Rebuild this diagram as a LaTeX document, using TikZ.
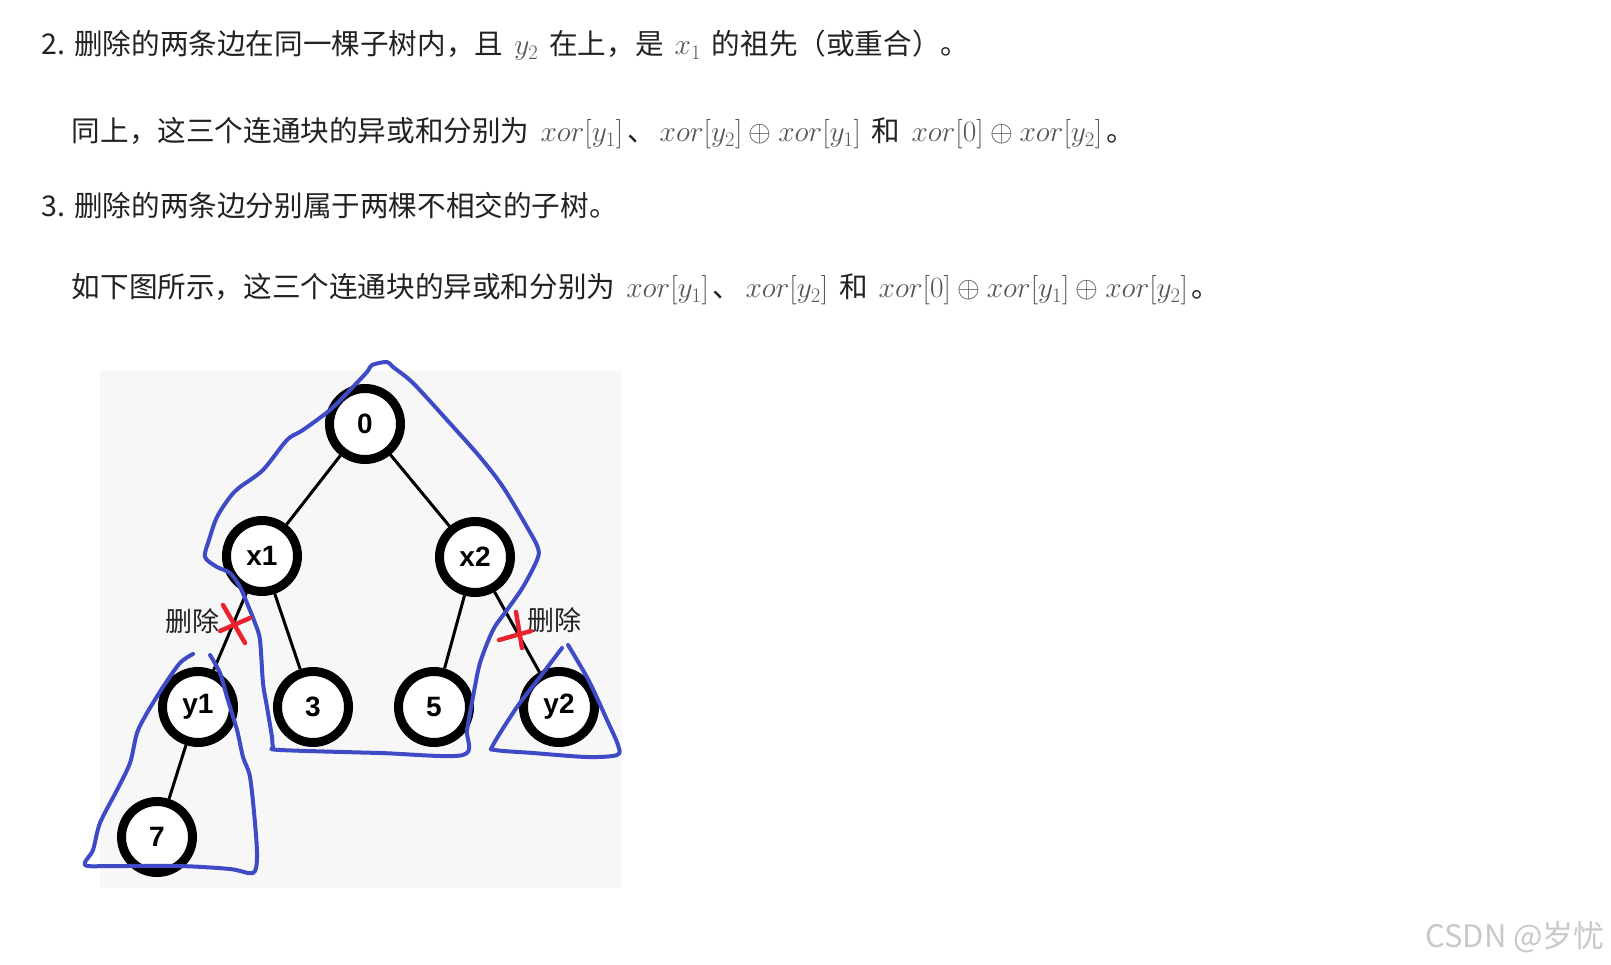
\RequirePackage{fix-cm}
\documentclass[tikz,border=0pt]{standalone}
\usepackage{fontspec}
\setmainfont{Noto Sans CJK SC}
\newfontfamily\labelfont{Liberation Sans}
\usetikzlibrary{positioning}
\usepackage{amsmath}
\usepackage{amssymb}
\usepackage{color}

\definecolor{txtgray}{HTML}{222222}
\definecolor{mathgray}{HTML}{555555}
\definecolor{panel}{HTML}{F7F7F7}
\definecolor{penblue}{HTML}{3F4BC6}
\definecolor{penred}{HTML}{E8252E}
\definecolor{markgray}{HTML}{C8C8C8}

\newcommand{\mth}[1]{{\fontsize{29.4}{34}\selectfont\textcolor{mathgray}{$#1$}}}
\newcommand{\wgap}{\hspace{11pt}}
\newcommand{\tgap}{\hspace{4pt}}

\begin{document}
\begin{tikzpicture}[x=1pt,y=-1pt,node distance=150pt,on grid,
  vtx/.style={circle,draw=black,line width=9pt,fill=white,minimum size=71pt,
    inner sep=0pt,font=\labelfont\bfseries\fontsize{28}{28}\selectfont},
  tree/.style={line width=3pt},
  para/.style={anchor=base west,inner sep=0pt,text=txtgray,
    font=\fontsize{28.6}{34}\selectfont},
  cut/.style={text=txtgray,inner sep=0pt,font=\fontsize{27}{27}\selectfont},
  pen/.style={penblue,line width=4pt,line cap=round,line join=round},
  cross/.style={penred,line width=4.5pt,line cap=round}]
\useasboundingbox (0,0) rectangle (1611,965);

% text above the figure
\node[para] (item2) at (41.7,55) {2. 删除的两条边在同一棵子树内，且\wgap\mth{y_2}\wgap 在上，是\wgap\mth{x_1}\wgap 的祖先（或重合）。};
\node[para] (same) at (71.7,141.6) {同上，这三个连通块的异或和分别为\wgap\mth{xor[y_1]}\tgap、\tgap\mth{xor[y_2]\oplus xor[y_1]}\wgap 和\wgap\mth{xor[0]\oplus xor[y_2]}\tgap。};
\node[para] (item3) at (41.7,216.7) {3. 删除的两条边分别属于两棵不相交的子树。};
\node[para] (below) at (71.7,298) {如下图所示，这三个连通块的异或和分别为\wgap\mth{xor[y_1]}\tgap、\tgap\mth{xor[y_2]}\wgap 和\wgap\mth{xor[0]\oplus xor[y_1]\oplus xor[y_2]}\tgap。};

% the figure
\fill[panel] (100,371) rectangle (622,888);

\node[vtx] (n0) at (365,424) {0};
\node[vtx] (x1) [below left=132pt and 103pt of n0] {x1};
\node[vtx] (x2) [below right=133pt and 110pt of n0] {x2};
\node[vtx] (y1) [below left=151pt and 64pt of x1] {y1};
\node[vtx] (n3) [below right=151pt and 51pt of x1] {3};
\node[vtx] (n5) [below left=150pt and 41pt of x2] {5};
\node[vtx] (y2) [below right=150pt and 84pt of x2] {y2};
\node[vtx] (n7) [below left=130pt and 41pt of y1] {7};

\path[tree]
(n0) edge (x1)
     edge (x2)
(x1) edge (y1)
     edge (n3)
(x2) edge (n5)
     edge (y2)
(y1) edge (n7);

\node[cut] (cutl) at (192.5,621.5) {删除};
\node[cut] (cutr) at (554,620) {删除};

% hand drawn outlines
\draw[pen] plot[smooth cycle,tension=0.5] coordinates {
  (205,557) (209,540) (217,517) (230,497) (240,487) (263,470) (287,440)
  (303,430) (330,410) (350,390) (367,372) (372,365) (387,362) (393,367)
  (413,383) (447,420) (480,457) (503,487) (527,527) (538,548) (537,560)
  (523,587) (507,610) (493,630) (480,663) (473,697) (467,730) (463,755)
  (380,753) (280,750) (273,747) (272,737) (267,707) (263,683) (260,640)
  (255,623) (247,603) (240,587) (230,573) (217,567)};
\draw[pen] plot[smooth,tension=0.5] coordinates {
  (193,654) (180,663) (163,687) (147,713) (137,733) (130,763) (117,790)
  (100,823) (93,850) (85,865) (113,866) (180,866) (230,869) (253,873)
  (257,857) (255,823) (250,777) (243,757) (237,730) (227,697) (220,673)
  (210,655)};
\draw[pen] plot[smooth,tension=0.5] coordinates {
  (562,648) (540,677) (517,707) (493,745) (495,750) (533,753) (587,757)
  (617,755) (618,745) (607,720) (590,683) (577,660) (568,645)};

% cut marks
\draw[cross] (220,631) -- (250,618);
\draw[cross] (223,605) -- (245,643);
\draw[cross] (499,640) -- (531,631);
\draw[cross] (516,612) -- (522,648);

\node[anchor=east,inner sep=0pt,text=markgray,font=\fontsize{31}{31}\selectfont] (mark) at (1605,937) {CSDN @岁忧};
\end{tikzpicture}
\end{document}
